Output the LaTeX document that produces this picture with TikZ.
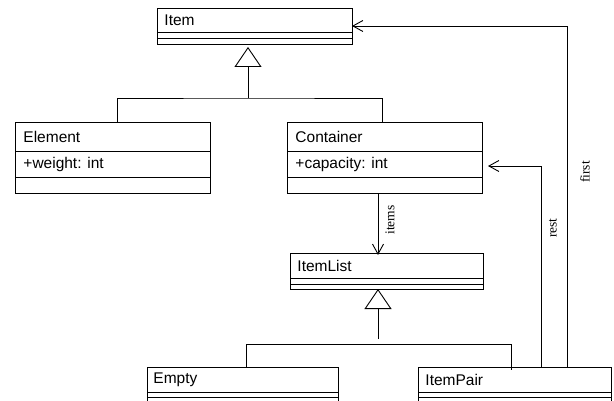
\documentclass[tikz,border=0pt]{standalone}
\usepackage{fontspec}
\setmainfont{Liberation Sans}
\newfontfamily\lblfont{Liberation Serif}
\usetikzlibrary{arrows.meta}
\begin{document}
\begin{tikzpicture}[x=1pt,y=-1pt,
  line width=0.9pt,
  cls/.style={draw, rectangle, anchor=north west, inner sep=0pt, minimum width=195pt},
  txt/.style={anchor=west, inner sep=0pt, font=\fontsize{15.5}{18}\selectfont},
  lbl/.style={font=\lblfont\fontsize{13.5}{15}\selectfont, rotate=90, inner sep=0pt},
  gen/.style={-{Triangle[open,length=20pt,width=27pt]}},
  assoc/.style={-{Straight Barb[length=10pt,width=11pt]}}
]
\useasboundingbox (0,0) rectangle (614,401);
\clip (0,0) rectangle (614,401);
% Item
\node[cls, minimum height=36pt] (item) at (157,8) {};
\node[txt] (itemname) at (164,20) {Item};
\draw (157,32) -- (352,32) (157,38) -- (352,38);
% Element
\node[cls, minimum height=71pt] (element) at (15,122) {};
\node[txt] (elname) at (23,137) {Element};
\node[txt] (elattr) at (23,164) {+weight: int};
\draw (15,151) -- (210,151) (15,177) -- (210,177);
% Container
\node[cls, minimum height=71pt] (container) at (287,122) {};
\node[txt] (coname) at (295,137) {Container};
\node[txt] (coattr) at (295,164) {+capacity: int};
\draw (287,151) -- (482,151) (287,177) -- (482,177);
% ItemList
\node[cls, minimum height=36pt, minimum width=193pt] (itemlist) at (290,253) {};
\node[txt] (ilname) at (297,266) {ItemList};
\draw (290,278) -- (483,278) (290,284) -- (483,284);
% Empty
\node[cls, minimum height=60pt, minimum width=191pt] (empty) at (147,367) {};
\node[txt] (emname) at (153,380) {Empty};
\draw (147,392) -- (338,392) (147,397) -- (338,397);
% ItemPair
\node[cls, minimum height=60pt, minimum width=193pt] (itempair) at (418,367) {};
\node[txt] (ipname) at (425,380) {ItemPair};
\draw (418,392) -- (611,392) (418,397) -- (611,397);
% generalization 1
\coordinate (j1) at (248,98);
\coordinate (t1) at (248,47);
\draw (element.north -| 117,0) |- (j1) -| (container.north -| 382,0);
\draw[gen] (j1) -- (t1);
% generalization 2
\coordinate (j2) at (378,339);
\coordinate (t2) at (378,289);
\draw (empty.north -| 246,0) |- (511,344) -- ([yshift=-3pt]itempair.north -| 511,0);
\draw[gen] (j2) -- (t2);
% items association
\draw[assoc] (container.south -| 378,0) -- ([yshift=-2pt]itemlist.north -| 378,0);
\node[lbl] (itemslbl) at (390,220) {items};
% rest association
\coordinate (restend) at (488,166);
\draw[assoc] (itempair.north -| 541,0) |- (restend);
\node[lbl] (restlbl) at (553,228) {rest};
% first association
\coordinate (firstend) at (352,26);
\draw[assoc] (itempair.north -| 567,0) |- (firstend);
\node[lbl] (firstlbl) at (585,172) {first};
\end{tikzpicture}
\end{document}
